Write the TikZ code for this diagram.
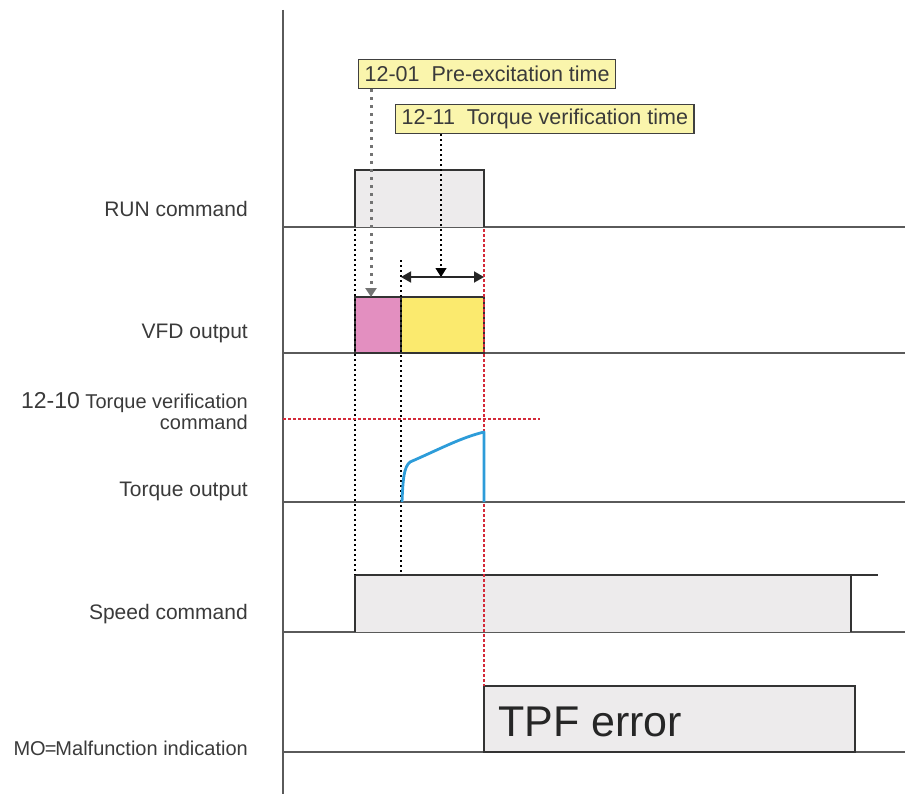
\documentclass[tikz,border=0pt]{standalone}
\usepackage{fontspec}
\setmainfont{Liberation Sans}
\usetikzlibrary{arrows.meta,positioning}

\definecolor{axisgray}{HTML}{5A5A5A}
\definecolor{textgray}{HTML}{3A3A3A}
\definecolor{pulsegray}{HTML}{EDEBEC}
\definecolor{preexc}{HTML}{E38FC0}
\definecolor{verify}{HTML}{FBEA6E}
\definecolor{notepale}{HTML}{FAF5AC}
\definecolor{torqueblue}{HTML}{2D9CD9}
\definecolor{limitred}{HTML}{D42A3A}

\tikzset{
  sig/.style={draw=axisgray, line width=2pt},
  pulse/.style={draw=black!80, line width=1.5pt},
  lbl/.style={anchor=east, text=textgray, inner sep=0pt, align=right,
    font=\fontsize{21}{21}\selectfont},
  note/.style={draw=black!75, fill=notepale, line width=1.3pt, anchor=north west,
    text=textgray, inner xsep=6pt, minimum height=29pt,
    font=\fontsize{21.5}{22}\selectfont},
  guide/.style={black, line width=1.2pt, dash pattern=on 2pt off 3pt},
  hint/.style={black!55, line width=3pt, dash pattern=on 3pt off 5pt},
  redline/.style={limitred, line width=1.1pt, dash pattern=on 3pt off 2pt},
  tip/.style={-{Triangle[length=9pt,width=11pt]}}
}

\begin{document}
\begin{tikzpicture}[x=1pt,y=-1pt]
\useasboundingbox (0,0) rectangle (912,794);

% labels
\node[lbl] (runlbl) at (248,209) {RUN command};
\node[lbl] (vfdlbl) at (248,333) {VFD output};
\node[lbl, font=\fontsize{20}{21}\selectfont] (cmdlbl) at (248,411) {{\fontsize{23}{21}\selectfont 12-10} Torque verification\\command};
\node[lbl] (tqlbl) at (248,491) {Torque output};
\node[lbl] (spdlbl) at (248,614) {Speed command};
\node[lbl, font=\fontsize{20}{21}\selectfont] (molbl) at (248,748) {MO{\kern-1pt=\kern-1pt}Malfunction indication};

% parameter notes
\node[note] (pe) at (358,59) {12-01~~Pre-excitation time};
\node[note] (tv) at (395,104) {12-11~~Torque verification time};

% axis and baselines
\draw[sig] (283,10) -- (283,794);
\draw[sig] (283,227) -- (905,227);
\draw[sig] (283,353) -- (905,353);
\draw[sig] (283,502) -- (905,502);
\draw[sig] (283,632) -- (905,632);
\draw[sig] (283,752) -- (905,752);

% RUN command
\fill[pulsegray] (355,170) rectangle (484,227);
\draw[pulse] (355,227) |- (484,170) -- (484,227);

% VFD output
\filldraw[pulse, fill=preexc] (355,297) rectangle (401,353);
\filldraw[pulse, fill=verify] (401,297) rectangle (484,353);

% speed command
\fill[pulsegray] (355,575) rectangle (851,632);
\draw[pulse] (355,632) |- (878,575);
\draw[pulse] (851,575) -- (851,632);

% malfunction output
\filldraw[pulse, fill=pulsegray] (484,686) rectangle (855,752);
\node[anchor=base west, inner sep=0pt, text=black!85, font=\fontsize{43}{43}\selectfont] (tpf) at (498,736) {TPF error};

% timing guides
\coordinate (preTip) at (371,297);
\coordinate (tvTip) at (441,277);
\coordinate (tvL) at (401,277);
\coordinate (tvR) at (484,277);
\draw[hint, tip] (pe.south -| preTip) -- (preTip);
\draw[guide, tip] (tv.south -| tvTip) -- (tvTip);
\draw[black!85, line width=1.8pt, {Triangle[length=10pt,width=11pt]}-{Triangle[length=10pt,width=11pt]}] (tvL) -- (tvR);
\draw[guide] (355,229) -- (355,575);
\draw[guide] (401,260) -- (401,575);
\draw[redline] (484,229) -- (484,686);
\draw[redline] (283,419) -- (540,419);

% torque output
\draw[torqueblue, line width=2.8pt, line join=round] (402,502) .. controls (403,478) and (404,467) .. (410,462)
  .. controls (440,449) and (460,438) .. (484,432) -- (484,502);
\end{tikzpicture}
\end{document}
